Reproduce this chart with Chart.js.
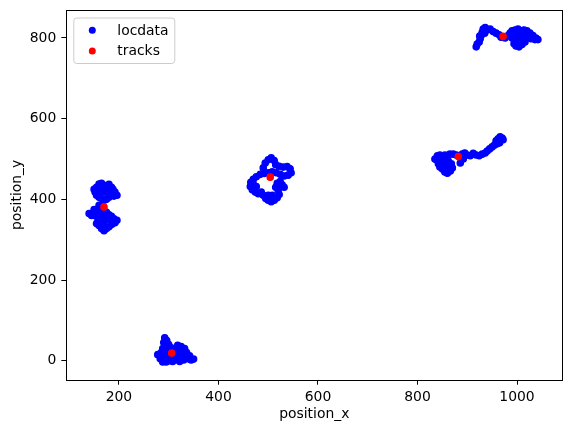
<!DOCTYPE html>
<html>
<head>
<meta charset="utf-8">
<script src="https://cdn.jsdelivr.net/npm/chart.js@4/dist/chart.umd.min.js"></script>
<style>
  html, body { margin: 0; padding: 0; background: #fff; }
  #wrap { width: 571px; height: 433px; }
</style>
</head>
<body>
<div id="wrap"><canvas id="chart" width="571" height="433"></canvas></div>
<script>
// locdata, one small list of [x, y] per cluster
const clusterA = [
  [155,430],[160,438],[165,440],[170,435],[175,432],[180,437],[185,430],[188,425],
  [192,418],[196,410],[190,408],[185,412],[180,405],[175,400],[170,398],[165,402],
  [160,405],[155,410],[152,418],[150,425],[158,420],[165,420],[172,418],[178,420],
  [184,418],[168,428],[176,425],[160,428],
  [160,385],[150,375],[140,365],[145,360],[150,368],[155,372],[160,365],[165,370],
  [170,372],[175,368],[180,362],[185,358],[190,352],[196,348],[192,342],[186,338],
  [180,332],[175,328],[170,322],[165,328],[160,335],[155,340],[158,350],[165,355],
  [170,345],[178,350],[185,345],[172,360],[162,358],[150,360]
];
const clusterB = [
  [278,15],[283,5],[288,-3],[295,-3],[302,0],[308,-2],[315,3],[322,-2],[330,2],
  [338,5],[345,2],[350,4],[342,12],[336,20],[330,28],[325,35],[318,38],[312,30],
  [305,32],[300,40],[296,50],[292,57],[290,45],[288,30],[285,20],[292,15],[298,22],
  [320,18],[328,12],[315,15],[305,8],[295,8],[325,25],[332,30],[310,22],[300,28]
];
const clusterC = [
  [490,478],[494,490],[500,498],[506,503],[512,496],[515,486],[522,482],[530,480],
  [538,481],[544,476],[546,466],[540,460],[532,458],[524,462],[516,466],[508,468],
  [500,466],[492,464],[484,462],[476,456],[470,450],[465,442],[464,432],[468,424],
  [474,418],[480,414],[486,418],[476,432],[470,438],
  [490,410],[495,402],[500,398],[506,394],[512,398],[518,404],[522,412],[520,422],
  [515,430],[518,440],[524,444],[528,436],[532,430],[500,410],[508,410]
];
const clusterD = [
  [838,498],[840,508],[845,510],[850,505],[848,495],[842,488],[845,480],[850,475],
  [855,468],[860,465],[866,470],[870,478],[868,488],[862,495],[858,500],[852,488],
  [858,478],[862,485],[835,500],[855,510],[865,512],
  [872,512],[878,510],[885,508],[890,512],[895,515],[900,510],[906,508],[912,514],
  [918,510],[924,508],[930,512],[936,515],[940,520],[945,525],[950,530],[955,535],
  [958,545],[962,550],[966,555],[970,552],[972,548],[965,540],[960,538],[886,490],[892,500]
];
const clusterE = [
  [918,778],[920,785],[924,790],[926,798],[928,806],[930,814],[932,822],[936,826],
  [940,820],[946,822],[952,816],[958,812],[964,808],[968,802],[976,800],[982,806],
  [986,812],[990,818],[996,820],[1002,822],[1008,818],[1014,820],[1020,818],[1026,812],
  [1032,806],[1038,800],[1042,796],[1036,796],[1028,798],[1020,804],[1012,806],[1004,800],
  [998,794],[994,786],[998,780],[1004,778],[1010,784],[1016,790],[990,800],[1000,810],
  [1010,812],[925,805],[935,812]
];

const tracksX = [170, 306, 504, 882, 972];
const tracksY = [381, 19, 455, 506, 804];

const xTicks = [200, 400, 600, 800, 1000];
const yTicks = [0, 200, 400, 600, 800];

const locdata = [].concat(clusterA, clusterB, clusterC, clusterD, clusterE)
  .map(p => ({ x: p[0], y: p[1] }));
const tracks = tracksX.map((x, i) => ({ x: x, y: tracksY[i] }));

const FONT = { family: 'DejaVu Sans', size: 13.9 };

// box around the plot, like matplotlib spines
const framePlugin = {
  id: 'frame',
  beforeDatasetsDraw(chart) {
    const { ctx, chartArea: a } = chart;
    ctx.save();
    ctx.strokeStyle = '#000';
    ctx.lineWidth = 1;
    ctx.strokeRect(Math.round(a.left) + 0.5, Math.round(a.top) + 0.5,
      Math.round(a.right - a.left), Math.round(a.bottom - a.top));
    ctx.restore();
  }
};

// legend inside the axes, upper left
const boxLegend = {
  id: 'boxLegend',
  afterDatasetsDraw(chart) {
    const { ctx, chartArea: a } = chart;
    const x0 = a.left + 7, y0 = a.top + 7.5, w = 101, h = 45.5;
    ctx.save();
    ctx.fillStyle = 'rgba(255,255,255,0.8)';
    ctx.strokeStyle = '#cccccc';
    ctx.lineWidth = 1;
    ctx.beginPath();
    ctx.roundRect(x0 + 0.5, y0 + 0.5, w, h, 3);
    ctx.fill();
    ctx.stroke();
    const rows = [a.top + 20.3, a.top + 41];
    chart.data.datasets.forEach((ds, i) => {
      const y = rows[i];
      ctx.beginPath();
      ctx.arc(a.left + 26, y, 3.5, 0, Math.PI * 2);
      ctx.fillStyle = ds.backgroundColor;
      ctx.fill();
      ctx.fillStyle = '#000';
      ctx.font = FONT.size + 'px ' + FONT.family;
      ctx.textBaseline = 'alphabetic';
      ctx.textAlign = 'left';
      ctx.fillText(ds.label, a.left + 51, y + 4.3);
    });
    ctx.restore();
  }
};

new Chart(document.getElementById('chart'), {
  type: 'scatter',
  data: {
    datasets: [
      {
        label: 'locdata',
        data: locdata,
        backgroundColor: '#0000ff',
        borderColor: '#0000ff',
        pointRadius: 3.1,
        borderWidth: 1.4,
        order: 1
      },
      {
        label: 'tracks',
        data: tracks,
        backgroundColor: '#ff0000',
        borderColor: '#ff0000',
        pointRadius: 3.1,
        borderWidth: 1.4,
        order: 0
      }
    ]
  },
  options: {
    responsive: false,
    animation: false,
    devicePixelRatio: 1,
    layout: { padding: { top: 10, right: 8.7, left: 0, bottom: 0 } },
    plugins: {
      legend: { display: false },
      tooltip: { enabled: false }
    },
    scales: {
      x: {
        type: 'linear',
        min: 94.2,
        max: 1091,
        afterBuildTicks: s => { s.ticks = xTicks.map(v => ({ value: v })); },
        afterFit: s => { s.height = 53.3; s.paddingLeft = 0; s.paddingRight = 0; },
        border: { display: false },
        grid: { drawOnChartArea: false, drawTicks: true, tickLength: 5, color: '#000', lineWidth: 1 },
        ticks: { color: '#000', font: FONT, padding: 4, maxRotation: 0, callback: v => String(v) },
        title: { display: true, text: 'position_x', color: '#000', font: FONT, padding: { top: 0, bottom: 10.6 } }
      },
      y: {
        type: 'linear',
        min: -47.1,
        max: 869.4,
        afterBuildTicks: s => { s.ticks = yTicks.map(v => ({ value: v })); },
        afterFit: s => { s.width = 66.3; s.paddingTop = 0; s.paddingBottom = 0; },
        border: { display: false },
        grid: { drawOnChartArea: false, drawTicks: true, tickLength: 5, color: '#000', lineWidth: 1 },
        ticks: { color: '#000', font: FONT, padding: 5, callback: v => String(v) },
        title: { display: true, text: 'position_y', color: '#000', font: FONT, padding: { top: 9, bottom: 0 } }
      }
    }
  },
  plugins: [framePlugin, boxLegend]
});
</script>
</body>
</html>
